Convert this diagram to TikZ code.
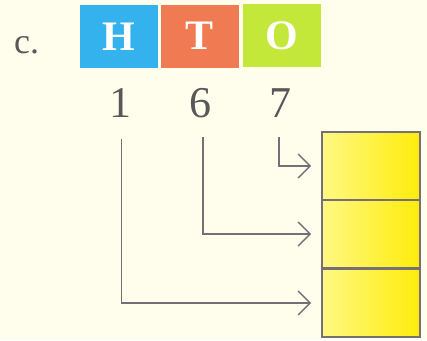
\documentclass[tikz,border=0pt]{standalone}
\usepackage{fontspec}
\setmainfont{Liberation Serif}
\definecolor{bgc}{RGB}{255,253,236}
\definecolor{hblue}{RGB}{52,178,238}
\definecolor{torange}{RGB}{240,122,82}
\definecolor{ogreen}{RGB}{196,232,58}
\definecolor{txtgrey}{RGB}{88,88,88}
\definecolor{linegrey}{RGB}{118,112,118}
\definecolor{ylight}{RGB}{255,248,130}
\definecolor{ydark}{RGB}{255,236,10}
\usetikzlibrary{arrows.meta}
\tikzset{
  headbox/.style={minimum width=78pt, minimum height=63pt, inner sep=0pt, text=white,
    font=\fontsize{42}{42}\selectfont\bfseries},
  digit/.style={inner sep=0pt, text=txtgrey, font=\fontsize{44}{44}\selectfont},
  cell/.style={draw=linegrey, line width=1.6pt, minimum width=98pt, minimum height=68pt,
    inner sep=0pt, left color=ylight, right color=ydark},
  conn/.style={draw=linegrey, line width=1.6pt, -{Straight Barb[length=12pt,width=24pt,line width=1.4pt]}, shorten >=10pt}
}
\begin{document}
\begin{tikzpicture}[x=1pt,y=-1pt]
\fill[bgc] (0,0) rectangle (427,340);
\useasboundingbox (0,0) rectangle (427,340);
\node[text=txtgrey, font=\fontsize{36}{36}\selectfont, anchor=base west, inner sep=0pt] (c) at (14,53) {c.};
\node[headbox, fill=hblue] (H) at (118.5,36.5) {H};
\node[headbox, fill=torange] (T) at (200,36) {T};
\node[headbox, fill=ogreen] (O) at (281.5,35.5) {O};
\node[digit, anchor=base] (n1) at (120,117) {1};
\node[digit, anchor=base] (n6) at (200,117) {6};
\node[digit, anchor=base] (n7) at (280,117) {7};
\node[cell] (c1) at (371,166) {};
\node[cell] (c2) at (371,234) {};
\node[cell] (c3) at (371,303) {};
\coordinate (s1) at (121.5,139);
\coordinate (s6) at (203,137);
\coordinate (s7) at (279,137);
\draw[conn] (s7) |- (c1.west);
\draw[conn] (s6) |- (c2.west);
\draw[conn] (s1) |- (c3.west);
\end{tikzpicture}
\end{document}
